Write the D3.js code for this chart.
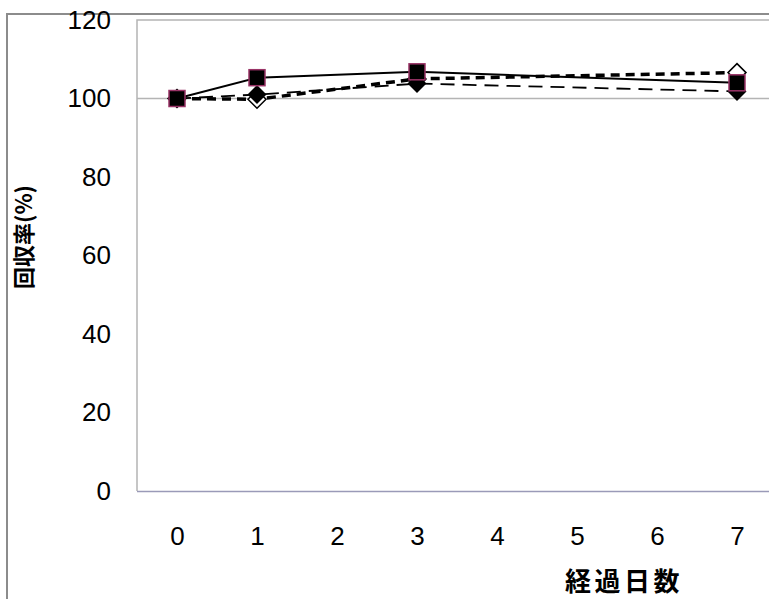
<!DOCTYPE html>
<html>
<head>
<meta charset="utf-8">
<script src="https://cdn.jsdelivr.net/npm/d3@7"></script>
<style>
  html, body { margin: 0; padding: 0; background: #fff; }
  svg { display: block; }
</style>
</head>
<body>
<svg id="chart" width="769" height="599"></svg>
<script>
// Days elapsed and recovery rates (%) for three series
const days = ["0", "1", "2", "3", "4", "5", "6", "7"];
const sampledDays = ["0", "1", "3", "7"];
const squareSeries = [100, 105.3, 106.8, 104.0];
const filledDiamondSeries = [100, 101.0, 103.8, 101.8];
const openDiamondSeries = [100, 99.8, 105.0, 106.6];
const yTicks = [0, 20, 40, 60, 80, 100, 120];

const svg = d3.select("#chart");
const W = 769, H = 599;

const plot = { left: 137, top: 20, bottom: 491, right: 777 };

const x = d3.scalePoint()
  .domain(days)
  .range([plot.left + 40, plot.right - 40]);

const y = d3.scaleLinear()
  .domain([0, 120])
  .range([plot.bottom, plot.top]);

// outer chart frame (top and left edges visible)
svg.append("path")
  .attr("d", `M7,${H} V14 H${W}`)
  .attr("fill", "none")
  .attr("stroke", "#8c8c8c")
  .attr("stroke-width", 2);

// plot-area frame
svg.append("path")
  .attr("d", `M${plot.left},${plot.bottom} V${plot.top} H${W}`)
  .attr("fill", "none")
  .attr("stroke", "#b4b4b4")
  .attr("stroke-width", 1.5);

// reference line at 100%
svg.append("line")
  .attr("x1", plot.left).attr("x2", W)
  .attr("y1", y(100)).attr("y2", y(100))
  .attr("stroke", "#b4b4b4")
  .attr("stroke-width", 1.5);

const tickFont = "Liberation Sans, Arial, sans-serif";

// x axis
const xAxis = svg.append("g")
  .attr("transform", `translate(0,${plot.bottom})`)
  .call(d3.axisBottom(x).tickSize(0).tickPadding(36));
xAxis.select(".domain")
  .attr("d", `M${plot.left},0.5H${W}`)
  .attr("stroke", "#9a9ab8")
  .attr("stroke-width", 1.5);
xAxis.selectAll("text")
  .attr("font-family", tickFont)
  .attr("font-size", 26)
  .attr("fill", "#000");

// y axis
const yAxis = svg.append("g")
  .attr("transform", `translate(${plot.left},0)`)
  .call(d3.axisLeft(y).tickValues(yTicks).tickSize(0).tickPadding(26));
yAxis.select(".domain").remove();
yAxis.selectAll("text")
  .attr("font-family", tickFont)
  .attr("font-size", 26)
  .attr("fill", "#000");

// axis titles
svg.append("text")
  .attr("x", 624).attr("y", 591)
  .attr("text-anchor", "middle")
  .attr("font-family", "Noto Sans CJK JP, sans-serif")
  .attr("font-weight", "bold")
  .attr("font-size", 26)
  .attr("letter-spacing", 3.5)
  .text("経過日数");

svg.append("text")
  .attr("transform", "translate(32,237) rotate(-90)")
  .attr("text-anchor", "middle")
  .attr("font-family", "Noto Sans CJK JP, sans-serif")
  .attr("font-weight", "bold")
  .attr("font-size", 22)
  .text("回収率(%)");

const line = d3.line()
  .x((d, i) => x(sampledDays[i]))
  .y(d => y(d));

// series lines
svg.append("path")
  .datum(openDiamondSeries)
  .attr("d", line)
  .attr("fill", "none")
  .attr("stroke", "#000")
  .attr("stroke-width", 3.5)
  .attr("stroke-dasharray", "9,6");

svg.append("path")
  .datum(filledDiamondSeries)
  .attr("d", line)
  .attr("fill", "none")
  .attr("stroke", "#000")
  .attr("stroke-width", 1.8)
  .attr("stroke-dasharray", "14,8");

svg.append("path")
  .datum(squareSeries)
  .attr("d", line)
  .attr("fill", "none")
  .attr("stroke", "#000")
  .attr("stroke-width", 2);

// markers
const diamond = s => `M0,${-s}L${s},0L0,${s}L${-s},0Z`;

svg.append("g").selectAll("path")
  .data(openDiamondSeries)
  .join("path")
  .attr("transform", (d, i) => `translate(${x(sampledDays[i])},${y(d)})`)
  .attr("d", diamond(9))
  .attr("fill", "#fff")
  .attr("stroke", "#000")
  .attr("stroke-width", 1.5);

svg.append("g").selectAll("path")
  .data(filledDiamondSeries)
  .join("path")
  .attr("transform", (d, i) => `translate(${x(sampledDays[i])},${y(d)})`)
  .attr("d", diamond(9.5))
  .attr("fill", "#000");

svg.append("g").selectAll("rect")
  .data(squareSeries)
  .join("rect")
  .attr("x", (d, i) => x(sampledDays[i]) - 8)
  .attr("y", d => y(d) - 8)
  .attr("width", 16)
  .attr("height", 16)
  .attr("fill", "#000")
  .attr("stroke", "#993366")
  .attr("stroke-width", 1.5);
</script>
</body>
</html>
